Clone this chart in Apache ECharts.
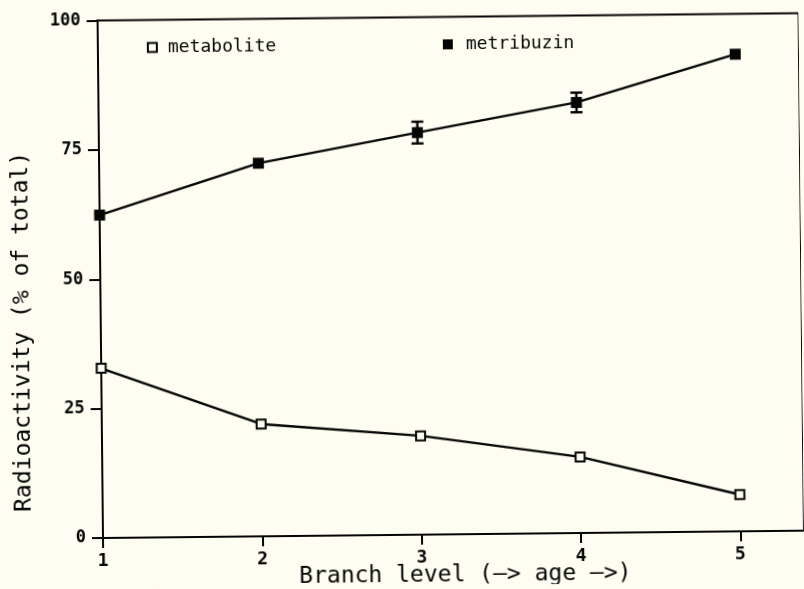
<!DOCTYPE html>
<html>
<head>
<meta charset="utf-8">
<script src="https://cdn.jsdelivr.net/npm/echarts@6/dist/echarts.min.js"></script>
<style>
  html, body { margin: 0; padding: 0; background: #fefdf1; overflow: hidden; }
  #chart {
    position: absolute; left: 0; top: 0; width: 804px; height: 589px;
    transform: rotate(-0.6deg); transform-origin: 103px 538px;
  }
</style>
</head>
<body>
<div id="chart"></div>
<script>
// Branch level (1 = youngest) and share of radioactivity (% of total)
const branchLevels = [1, 2, 3, 4, 5];
const metabolite = [32.8, 21.7, 19.1, 14.7, 7.1];
const metribuzin = [62.4, 72.1, 77.7, 83.2, 92.2];
const metribuzinErr = [0, 0, 2.1, 1.9, 0];
const yTicks = [0, 25, 50, 75, 100];

const BG = '#fefdf1';
const INK = '#050505';
const MONO = '"DejaVu Sans Mono", "Liberation Mono", monospace';

const chart = echarts.init(document.getElementById('chart'), null, { renderer: 'canvas' });

const pairs = (vals) => branchLevels.map((x, i) => [x, vals[i]]);
const errData = branchLevels
  .map((x, i) => [x, metribuzin[i] - metribuzinErr[i], metribuzin[i] + metribuzinErr[i]])
  .filter((d, i) => metribuzinErr[i] > 0);

chart.setOption({
  backgroundColor: BG,
  animation: false,
  grid: {
    left: 103, top: 20.5, width: 706, height: 517.5,
    show: true, borderColor: INK, borderWidth: 2, backgroundColor: 'transparent'
  },
  legend: [
    {
      data: ['metabolite'], left: 147, top: 34,
      itemWidth: 9, itemHeight: 9, icon: 'rect',
      itemStyle: { color: BG, borderColor: INK, borderWidth: 2 },
      textStyle: { fontFamily: MONO, fontSize: 18, color: INK, padding: [0, 0, 0, 6] }
    },
    {
      data: ['metribuzin'], left: 443, top: 34,
      itemWidth: 10, itemHeight: 10, icon: 'rect',
      itemStyle: { color: INK, borderWidth: 0 },
      textStyle: { fontFamily: MONO, fontSize: 18, color: INK, padding: [0, 0, 0, 8] }
    }
  ],
  xAxis: {
    type: 'value', min: 1, max: 5.4, interval: 1,
    splitLine: { show: false },
    axisLine: { lineStyle: { color: INK, width: 2 } },
    axisTick: { length: 10, lineStyle: { color: INK, width: 2 } },
    axisLabel: {
      showMaxLabel: false, margin: 14, color: INK,
      fontFamily: MONO, fontSize: 18, fontWeight: 'bold'
    }
  },
  yAxis: {
    type: 'value', min: yTicks[0], max: yTicks[yTicks.length - 1], interval: 25,
    splitLine: { show: false },
    axisLine: { lineStyle: { color: INK, width: 2 } },
    axisTick: { length: 11, lineStyle: { color: INK, width: 2 } },
    axisLabel: { margin: 17, color: INK, fontFamily: MONO, fontSize: 17, fontWeight: 'bold' }
  },
  series: [
    {
      name: 'metabolite', type: 'line', data: pairs(metabolite),
      symbol: 'rect', symbolSize: 9,
      lineStyle: { color: INK, width: 2.4 },
      itemStyle: { color: BG, borderColor: INK, borderWidth: 2 },
      z: 3
    },
    {
      name: 'metribuzin', type: 'line', data: pairs(metribuzin),
      symbol: 'rect', symbolSize: 11,
      lineStyle: { color: INK, width: 2.4 },
      itemStyle: { color: INK, borderWidth: 0 },
      z: 3
    },
    {
      name: 'metribuzin error', type: 'custom', data: errData, z: 4,
      renderItem: (params, api) => {
        const x = api.value(0);
        const lo = api.coord([x, api.value(1)]);
        const hi = api.coord([x, api.value(2)]);
        const w = 6;
        const style = { stroke: INK, lineWidth: 2.4 };
        return {
          type: 'group',
          children: [
            { type: 'line', shape: { x1: lo[0], y1: lo[1], x2: hi[0], y2: hi[1] }, style },
            { type: 'line', shape: { x1: lo[0] - w, y1: lo[1], x2: lo[0] + w, y2: lo[1] }, style },
            { type: 'line', shape: { x1: hi[0] - w, y1: hi[1], x2: hi[0] + w, y2: hi[1] }, style }
          ]
        };
      }
    }
  ],
  graphic: [
    {
      type: 'text', x: 25, y: 331, rotation: Math.PI / 2,
      style: {
        text: 'Radioactivity (% of total)', fontFamily: MONO, fontSize: 23,
        fill: INK, align: 'center', verticalAlign: 'middle'
      }
    },
    {
      type: 'text', x: 465, y: 579,
      style: {
        text: 'Branch level (\u2014> age \u2014>)', fontFamily: MONO, fontSize: 23,
        fill: INK, align: 'center', verticalAlign: 'middle'
      }
    }
  ]
});
</script>
</body>
</html>
